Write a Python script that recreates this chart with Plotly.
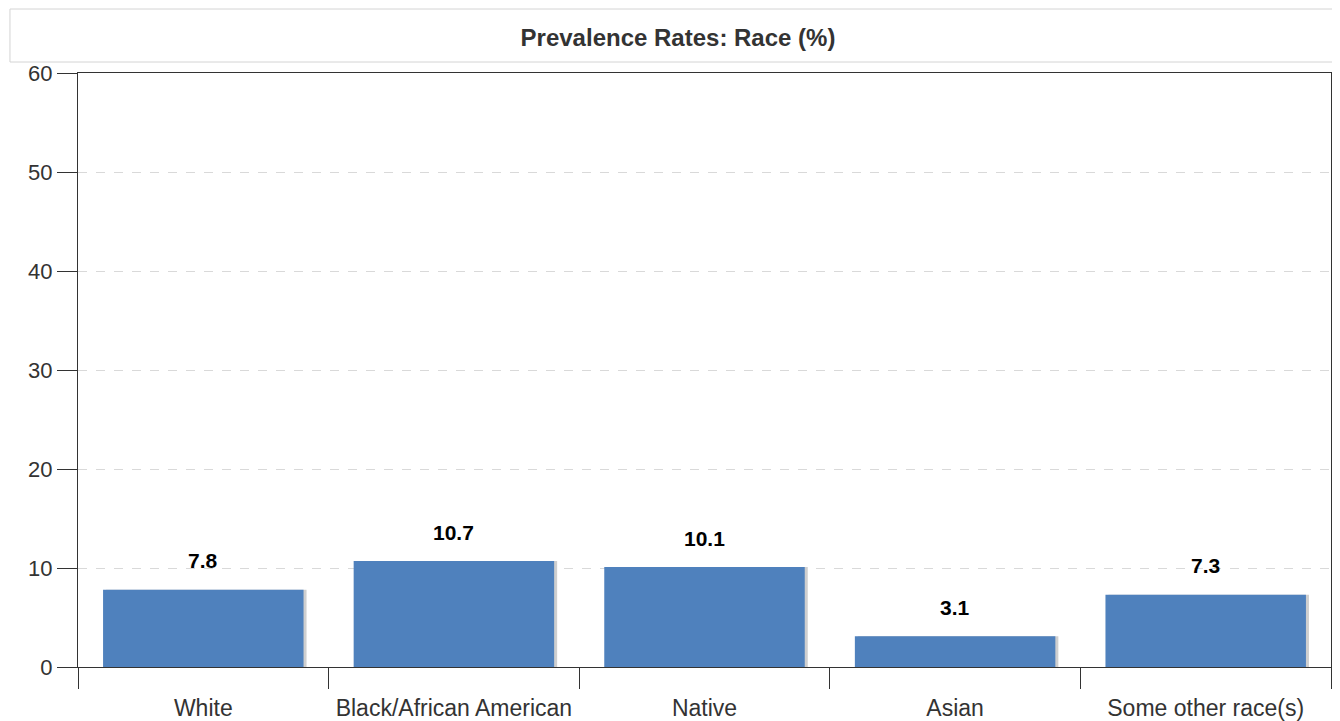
"""
Prevalence rates by race, bar chart.
"""
import plotly.graph_objects as go

# dados
categorias = ["White", "Black/African American", "Native", "Asian", "Some other race(s)"]
taxas = [7.8, 10.7, 10.1, 3.1, 7.3]
titulo = "Prevalence Rates: Race (%)"
y_ticks = [0, 10, 20, 30, 40, 50, 60]

bar_color = "#4F81BD"
shadow_color = "#CFCFCF"
text_gray = "#333333"
font_family = "Liberation Sans, Arial, sans-serif"

# a página html tem margem de 8px no body, então a figura é reduzida
fig_w, fig_h = 1332, 713

fig = go.Figure()

# sombra das barras (deslocada para a direita)
fig.add_trace(
    go.Bar(
        x=categorias,
        y=taxas,
        width=0.8,
        offset=-0.388,
        marker=dict(color=shadow_color, line=dict(width=0)),
        hoverinfo="skip",
        showlegend=False,
    )
)

# barras principais
fig.add_trace(
    go.Bar(
        x=categorias,
        y=taxas,
        width=0.8,
        offset=-0.4,
        marker=dict(color=bar_color, line=dict(width=0)),
        hovertemplate="%{x}: %{y:.1f}<extra></extra>",
        showlegend=False,
    )
)

# rótulos de valor acima das barras
for cat, val in zip(categorias, taxas):
    fig.add_annotation(
        x=cat,
        y=val,
        text=f"<b>{val:.1f}</b>",
        showarrow=False,
        yshift=29,
        font=dict(family=font_family, size=21, color="black"),
    )

# caixa do título
fig.add_shape(
    type="rect",
    xref="paper",
    yref="paper",
    x0=-0.0543,
    x1=1.0064,
    y0=1.0185,
    y1=1.1077,
    line=dict(color="#D4D4D4", width=1),
    fillcolor="white",
    layer="below",
)

fig.update_layout(
    barmode="overlay",
    title=dict(
        text=f"<b>{titulo}</b>",
        x=0.5 + 4 / fig_w,
        xref="container",
        y=1 - 30 / fig_h,
        yref="container",
        xanchor="center",
        yanchor="middle",
        font=dict(family=font_family, size=24, color=text_gray),
    ),
    width=fig_w,
    height=fig_h,
    margin=dict(l=70, r=9, t=65, b=54),
    plot_bgcolor="white",
    paper_bgcolor="white",
    font=dict(family=font_family, color=text_gray),
    bargap=0.2,
)

fig.update_xaxes(
    range=[-0.5, 4.5],
    tickson="boundaries",
    ticks="outside",
    ticklen=21,
    tickcolor="#333333",
    tickwidth=1,
    ticklabelstandoff=20,
    automargin=False,
    showline=True,
    linecolor="#333333",
    linewidth=1,
    mirror=True,
    showgrid=False,
    tickfont=dict(family=font_family, size=23, color=text_gray),
)

fig.update_yaxes(
    range=[0, 60],
    tickvals=y_ticks,
    ticks="outside",
    ticklen=20,
    tickcolor="#333333",
    tickwidth=1,
    ticklabelstandoff=0,
    automargin=False,
    showline=True,
    linecolor="#333333",
    linewidth=1,
    mirror=True,
    showgrid=True,
    gridcolor="#D9D9D9",
    griddash="dash",
    gridwidth=1,
    zeroline=False,
    tickfont=dict(family=font_family, size=22, color=text_gray),
)

fig.write_html("out.html")
